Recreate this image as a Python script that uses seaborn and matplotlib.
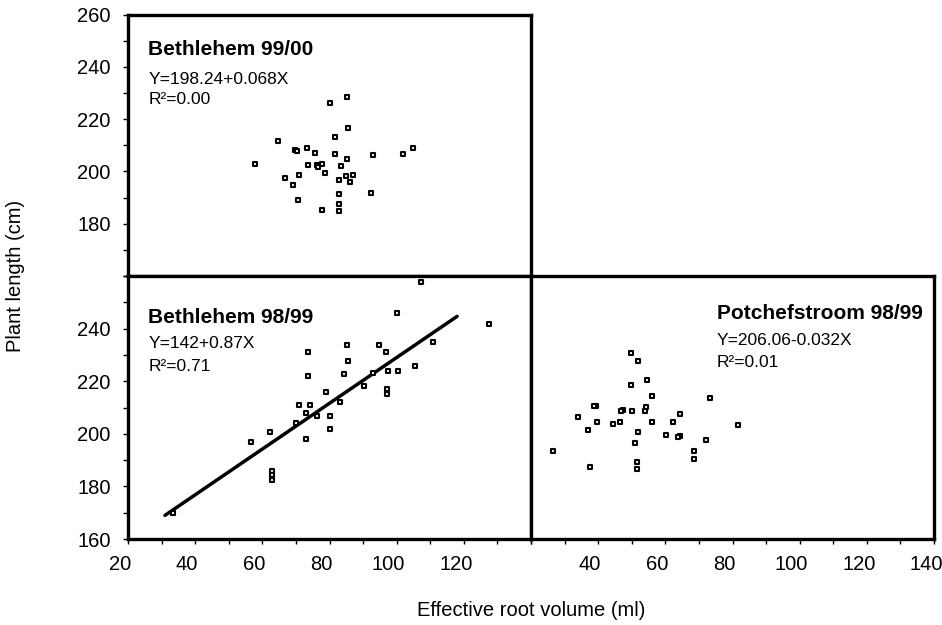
import matplotlib
matplotlib.use("Agg")
import matplotlib.pyplot as plt
import matplotlib.transforms as mtransforms
from matplotlib.ticker import FixedLocator, MultipleLocator
import numpy as np
import seaborn as sns

sns.set_theme(style="ticks")
plt.rcParams["font.family"] = ["Liberation Sans", "DejaVu Sans"]

# Effective root volume (ml) and plant length (cm) per site/season
beth9900_root = [85.3, 80.2, 85.6, 81.7, 64.8, 105.0, 102.0, 93.0, 69.7, 70.2,
                 73.2, 75.7, 81.7, 85.3, 83.4, 57.7, 73.5, 76.2, 77.9, 76.5,
                 78.8, 66.8, 71.0, 69.2, 82.8, 84.9, 87.1, 86.1, 70.7, 77.7,
                 82.9, 82.9, 82.9, 92.4]
beth9900_len = [228.6, 226.0, 216.7, 213.2, 211.6, 209.1, 206.7, 206.2, 208.2, 207.7,
                208.8, 206.9, 206.7, 204.7, 202.1, 202.9, 202.6, 202.4, 202.8, 201.8,
                199.5, 197.5, 198.5, 194.7, 196.8, 198.1, 198.7, 195.8, 189.1, 185.1,
                191.5, 187.5, 184.7, 191.7]

beth9899_root = [107.3, 100.2, 127.5, 110.7, 85.3, 94.7, 73.7, 96.7, 85.6, 105.5,
                 73.6, 84.4, 92.9, 97.3, 100.3, 90.2, 97.0, 97.2, 78.9, 83.1,
                 71.0, 74.2, 73.1, 76.4, 80.1, 69.9, 80.2, 62.3, 56.6, 73.1,
                 62.8, 62.8, 62.8, 33.5]
beth9899_len = [257.6, 246.0, 241.7, 234.9, 233.8, 233.8, 231.0, 231.0, 227.8, 225.8,
                222.0, 222.9, 223.2, 223.9, 223.9, 218.1, 217.0, 215.1, 215.9, 212.0,
                211.1, 211.1, 208.0, 206.9, 206.9, 204.2, 201.7, 200.6, 196.9, 198.0,
                185.9, 184.2, 182.4, 169.9]

potch9899_root = [49.7, 52.0, 54.6, 49.7, 56.1, 73.3, 39.3, 38.9, 54.2, 54.0,
                  47.3, 46.8, 50.2, 33.9, 64.5, 39.7, 46.5, 44.4, 56.0, 62.4,
                  81.6, 37.1, 51.8, 60.2, 64.4, 63.9, 51.0, 72.1, 26.5, 68.6,
                  68.6, 37.6, 51.5, 51.5]
potch9899_len = [230.6, 227.6, 220.6, 218.6, 214.5, 213.6, 210.6, 210.6, 210.3, 208.7,
                 209.0, 208.6, 208.6, 206.5, 207.4, 204.5, 204.5, 203.6, 204.5, 204.5,
                 203.5, 201.4, 200.6, 199.5, 199.2, 198.7, 196.5, 197.5, 193.6, 193.6,
                 190.4, 187.5, 189.4, 186.5]

# Fitted regression for Bethlehem 98/99 (intercept, slope) and its x span
beth9899_intercept = 142.0
beth9899_slope = 0.87
beth9899_fit_span = [31, 118]

panel_titles = ["Bethlehem 99/00", "Bethlehem 98/99", "Potchefstroom 98/99"]
panel_equations = ["Y=198.24+0.068X", "Y=142+0.87X", "Y=206.06-0.032X"]
panel_r2 = ["R\u00b2=0.00", "R\u00b2=0.71", "R\u00b2=0.01"]

top_yticks = [180, 200, 220, 240, 260]
bottom_yticks = [160, 180, 200, 220, 240]
left_xticks = [20, 40, 60, 80, 100, 120]
right_xticks = [40, 60, 80, 100, 120, 140]

W, H = 942, 625
fig = plt.figure(figsize=(W / 100, H / 100), dpi=100)
fig.patch.set_facecolor("white")


def box(left, top, right, bottom):
    return [left / W, 1 - bottom / H, (right - left) / W, (bottom - top) / H]


ax_top = fig.add_axes(box(128, 14.5, 531, 276))
ax_bl = fig.add_axes(box(128, 276, 531, 539))
ax_br = fig.add_axes(box(531, 276, 934, 539))
axes = [ax_top, ax_bl, ax_br]

for ax in axes:
    ax.set_facecolor("white")
    ax.set_xlim(20, 140)
    ax.set_ylim(160, 260)
    for sp in ax.spines.values():
        sp.set_visible(True)
        sp.set_color("black")
        sp.set_linewidth(2.4)
    ax.tick_params(which="both", direction="out", length=3.5, width=1.0,
                   color="black", labelsize=14.5, labelcolor="black")
    ax.tick_params(axis="x", pad=8)
    ax.tick_params(axis="y", pad=9)

scatter_kw = dict(marker="s", s=11, color="white", edgecolor="black",
                  linewidth=1.5, legend=False, zorder=3)
sns.scatterplot(x=beth9900_root, y=beth9900_len, ax=ax_top, **scatter_kw)
sns.scatterplot(x=beth9899_root, y=beth9899_len, ax=ax_bl, **scatter_kw)
sns.scatterplot(x=potch9899_root, y=potch9899_len, ax=ax_br, **scatter_kw)

fit_x = np.array(beth9899_fit_span, dtype=float)
fit_y = beth9899_intercept + beth9899_slope * fit_x
sns.lineplot(x=fit_x, y=fit_y, ax=ax_bl, color="black", linewidth=2.5,
             legend=False, zorder=2)

# Tick layout
ax_top.yaxis.set_major_locator(FixedLocator(top_yticks))
ax_top.yaxis.set_minor_locator(MultipleLocator(10))
ax_top.tick_params(axis="x", which="both", bottom=False, labelbottom=False)

ax_bl.yaxis.set_major_locator(FixedLocator(bottom_yticks))
ax_bl.yaxis.set_minor_locator(MultipleLocator(10))
ax_bl.xaxis.set_major_locator(FixedLocator(left_xticks))
ax_bl.xaxis.set_minor_locator(MultipleLocator(10))

ax_br.xaxis.set_major_locator(FixedLocator(right_xticks))
ax_br.xaxis.set_minor_locator(MultipleLocator(10))
ax_br.tick_params(axis="y", which="both", left=False, labelleft=False)

for ax in axes:
    ax.set_xlabel("")
    ax.set_ylabel("")

# x tick labels sit slightly left of their tick marks
shift = mtransforms.ScaledTranslation(-8 / 100, 0, fig.dpi_scale_trans)
for ax in (ax_bl, ax_br):
    for tick in ax.xaxis.get_major_ticks():
        tick.label1.set_transform(tick.label1.get_transform() + shift)

# Panel annotations
text_pos = [
    (ax_top, 0.050, (0.845, 0.734, 0.658)),
    (ax_bl, 0.050, (0.822, 0.725, 0.640)),
    (ax_br, 0.461, (0.835, 0.738, 0.655)),
]
for (ax, xf, (yt, ye, yr)), title, eq, r2 in zip(text_pos, panel_titles,
                                                 panel_equations, panel_r2):
    ax.text(xf, yt, title, transform=ax.transAxes, fontsize=15,
            fontweight="bold", ha="left", va="baseline", color="black")
    ax.text(xf, ye, eq, transform=ax.transAxes, fontsize=12.5,
            ha="left", va="baseline", color="black")
    ax.text(xf, yr, r2, transform=ax.transAxes, fontsize=12.5,
            ha="left", va="baseline", color="black")

fig.text(531 / W, 1 - 610 / H, "Effective root volume (ml)", fontsize=14.5,
         ha="center", va="center", color="black")
fig.text(16 / W, 1 - 276 / H, "Plant length (cm)", fontsize=14.5,
         rotation=90, ha="center", va="center", color="black")

fig.savefig("out.png", dpi=100, facecolor="white")
